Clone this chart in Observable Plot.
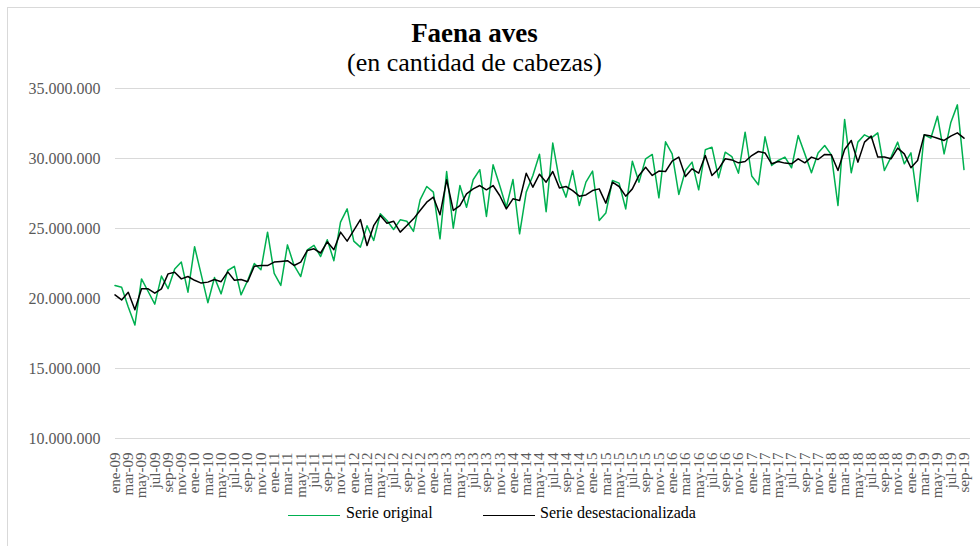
<!DOCTYPE html>
<html><head><meta charset="utf-8">
<script src="https://cdn.jsdelivr.net/npm/d3@7"></script>
<script src="https://cdn.jsdelivr.net/npm/@observablehq/plot@0.6"></script>
<style>
html,body{margin:0;padding:0;background:#fff;}
body{width:980px;height:546px;overflow:hidden;position:relative;font-family:"Liberation Serif","Times New Roman",serif;}
#frame{position:absolute;left:7px;top:7px;width:1000px;height:600px;border-left:1px solid #d9d9d9;border-top:1px solid #d9d9d9;box-sizing:border-box;}
#chart{position:absolute;left:0;top:0;}
.t{position:absolute;left:0;width:949px;text-align:center;line-height:1;white-space:nowrap;color:#000;}
#title{top:20px;font-size:27px;font-weight:bold;}
#subtitle{top:50px;font-size:26px;}
.lg{position:absolute;font-size:16px;line-height:1;white-space:nowrap;color:#000;}
.sw{position:absolute;height:0;}
</style></head>
<body>
<div id="frame"></div>
<div id="chart"></div>
<div class="t" id="title">Faena aves</div>
<div class="t" id="subtitle">(en cantidad de cabezas)</div>
<div class="sw" style="left:288px;top:515px;width:52px;border-top:1.5px solid #00B050;"></div>
<div class="lg" style="left:346px;top:505px;">Serie original</div>
<div class="sw" style="left:483px;top:515px;width:52px;border-top:1.5px solid #000;"></div>
<div class="lg" style="left:540px;top:505px;">Serie desestacionalizada</div>
<script>
// Month abbreviations and years for the category axis
const monthAbbr = ["ene","feb","mar","abr","may","jun","jul","ago","sep","oct","nov","dic"];
const years = ["09","10","11","12","13","14","15","16","17","18","19"];
// Serie original (millions of heads), ene-09 .. sep-19
const serieOriginal = [
20.93,20.8,19.4,18.1,21.4,20.5,19.6,21.6,20.7,22.1,22.6,20.45,
23.7,21.7,19.7,21.5,20.33,22.0,22.3,20.26,21.29,22.5,22.05,24.74,
21.8,20.93,23.83,22.36,21.57,23.48,23.8,23.0,24.2,22.7,25.45,26.4,
24.1,23.67,25.2,24.14,26.05,25.57,24.93,25.62,25.52,24.79,27.05,28.0,
27.6,24.26,29.07,25.02,28.07,26.52,28.48,29.2,25.86,29.55,28.07,26.52,
28.5,24.62,27.6,28.79,30.3,26.2,31.1,28.43,27.24,29.14,26.64,28.31,
29.1,25.57,26.1,28.43,28.24,26.4,29.81,28.31,29.98,30.29,27.19,31.19,
30.33,27.43,29.14,29.74,27.76,30.62,30.81,28.62,30.45,30.14,28.95,31.88,
28.75,28.12,31.55,29.5,29.86,30.1,29.34,31.64,30.33,28.98,30.4,30.93,
30.26,26.64,32.79,28.98,31.17,31.69,31.45,31.83,29.14,30.1,31.17,29.62,
30.4,26.93,31.69,31.45,33.02,30.33,32.55,33.83,29.21
];
// Serie desestacionalizada (millions of heads)
const serieDesest = [
20.26,19.9,20.45,19.19,20.69,20.69,20.38,20.69,21.76,21.88,21.4,21.57,
21.3,21.1,21.17,21.36,21.2,21.9,21.3,21.36,21.2,22.3,22.35,22.35,
22.6,22.65,22.7,22.36,22.6,23.43,23.55,23.25,24.05,23.48,24.74,24.1,
24.86,25.64,23.79,25.2,25.93,25.38,25.52,24.74,25.21,25.69,26.29,26.88,
27.24,25.98,28.48,26.29,26.64,27.48,27.83,28.07,27.76,28.07,27.36,26.4,
27.12,27.0,28.95,27.95,28.88,28.31,29.07,27.9,28.0,27.71,27.31,27.4,
27.71,27.83,26.81,28.31,28.0,27.31,27.83,28.79,29.38,28.79,29.1,29.07,
29.81,30.1,28.71,29.26,28.95,30.21,28.79,29.26,29.98,29.9,29.69,29.79,
30.21,30.5,30.4,29.62,29.79,29.67,29.62,29.98,29.69,30.1,29.93,30.29,
30.26,29.14,30.64,31.29,29.74,31.17,31.6,30.1,30.1,29.98,30.74,30.33,
29.34,29.86,31.69,31.6,31.45,31.29,31.6,31.83,31.45
];
const yTicks = [10e6,15e6,20e6,25e6,30e6,35e6];

const n = serieOriginal.length;
const labels = d3.range(n).map(i => monthAbbr[i % 12] + "-" + years[Math.floor(i / 12)]);
const xTicks = d3.range(0, n, 2);
const rows = [];
serieOriginal.forEach((v, i) => rows.push({i, v: v * 1e6, s: "Serie original"}));
serieDesest.forEach((v, i) => rows.push({i, v: v * 1e6, s: "Serie desestacionalizada"}));

const loc = d3.formatLocale({decimal: ",", thousands: ".", grouping: [3], currency: ["$", ""]});
const fmt = loc.format(",.0f");

const W = 980, H = 546;
const marks = [
  Plot.ruleY(yTicks, {stroke: "#d9d9d9", strokeWidth: 1}),
  Plot.line(rows.filter(d => d.s === "Serie original"), {x: "i", y: "v", stroke: "#00B050", strokeWidth: 1.5}),
  Plot.line(rows.filter(d => d.s !== "Serie original"), {x: "i", y: "v", stroke: "#000000", strokeWidth: 1.5})
];
let axisOpts = {};
if (typeof Plot.axisY === "function") {
  marks.push(Plot.axisY(yTicks, {tickFormat: fmt, tickSize: 0, tickPadding: 15, fill: "#595959", fontSize: 16, fontFamily: "Liberation Serif"}));
  marks.push(Plot.axisX(xTicks, {tickFormat: i => labels[i], tickSize: 0, tickPadding: 14, tickRotate: -90, fill: "#595959", fontSize: 15, fontFamily: "Liberation Serif"}));
} else {
  axisOpts = true;
}
const chart = Plot.plot({
  width: W, height: H,
  marginTop: 88, marginBottom: H - 438, marginLeft: 115, marginRight: 10,
  style: {fontFamily: "Liberation Serif", fontSize: "15px", color: "#595959", background: "transparent"},
  x: {type: "linear", domain: [0, n - 1], range: [114.5, 963.5], ticks: xTicks, tickFormat: i => labels[i], tickSize: 0, tickPadding: 14, tickRotate: -90, label: null, axis: axisOpts === true ? "bottom" : null},
  y: {domain: [10e6, 35e6], ticks: yTicks, tickFormat: fmt, tickSize: 0, tickPadding: 15, label: null, axis: axisOpts === true ? "left" : null},
  marks
});
document.getElementById("chart").appendChild(chart);
</script>
</body></html>
